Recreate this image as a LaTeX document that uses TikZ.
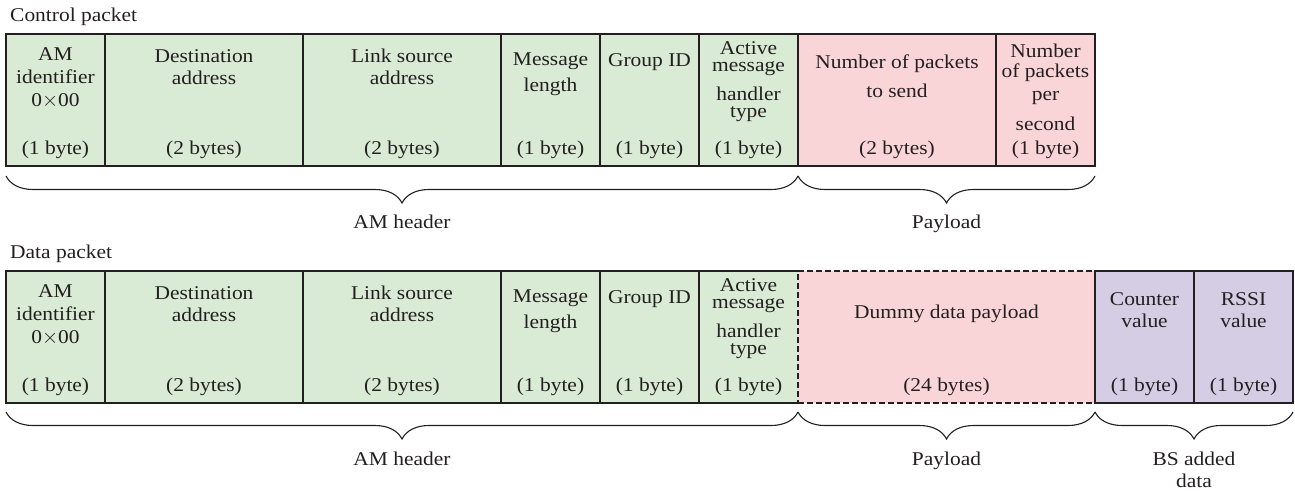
\documentclass[tikz,border=0pt]{standalone}
\usepackage{fontspec}
\setmainfont{Liberation Serif}[FakeStretch=1.1]
\usetikzlibrary{calc,decorations.pathreplacing}

\definecolor{inkgray}{RGB}{35,31,32}
\definecolor{amgreen}{RGB}{217,234,213}
\definecolor{loadpink}{RGB}{250,213,215}
\definecolor{bslilac}{RGB}{213,205,228}

\tikzset{
	field/.style={rectangle, inner sep=0pt, outer sep=0pt, minimum height=132pt, anchor=north west, line width=1.1pt, draw=inkgray},
	lbl/.style={align=center, inner sep=0pt, text=inkgray, font=\fontsize{19.5}{22}\selectfont},
	bytes/.style={lbl},
	rowtitle/.style={lbl, anchor=base west},
	partname/.style={lbl, anchor=north},
	hbrace/.style={decorate, decoration={brace, amplitude=27pt}, line width=1.1pt, draw=inkgray}
}

\begin{document}
\begin{tikzpicture}[x=1pt, y=1pt]
				\useasboundingbox (0,0) rectangle (1295,-490);
				
				% control packet
				\node[rowtitle] (ctitle) at (10,-21) {Control packet};
				
				\node[field, fill=amgreen, minimum width=99pt] (c1) at (6,-34) {};
				\node[field, fill=amgreen, minimum width=198pt] (c2) at (105,-34) {};
				\node[field, fill=amgreen, minimum width=198pt] (c3) at (303,-34) {};
				\node[field, fill=amgreen, minimum width=99pt] (c4) at (501,-34) {};
				\node[field, fill=amgreen, minimum width=99pt] (c5) at (600,-34) {};
				\node[field, fill=amgreen, minimum width=99pt] (c6) at (699,-34) {};
				\node[field, fill=loadpink, minimum width=198pt] (c7) at (798,-34) {};
				\node[field, fill=loadpink, minimum width=99pt] (c8) at (996,-34) {};
				
				\node[lbl] (c1t) at ([yshift=-44pt]c1.north) {AM\\[1pt]identifier\\[1pt]0{$\times$}00};
				\node[lbl] (c2t) at ([yshift=-33pt]c2.north) {Destination\\address};
				\node[lbl] (c3t) at ([yshift=-33pt]c3.north) {Link source\\address};
				\node[lbl] (c4t) at ([yshift=-40pt]c4.north) {Message\\[4pt]length};
				\node[lbl] (c5t) at ([yshift=-28pt]c5.north) {Group ID};
				\node[lbl] (c6t) at ([yshift=-48pt]c6.north) {Active\\[-5pt]message\\[7pt]handler\\[-5pt]type};
				\node[lbl] (c7t) at ([yshift=-42pt]c7.north) {Number of packets\\[7pt]to send};
				\node[lbl] (c8t) at ([yshift=-53pt]c8.north) {Number\\[-2pt]of packets\\[1pt]per\\[8pt]second};
				
				\node[bytes] (c1b) at ([yshift=16pt]c1.south) {(1 byte)};
				\node[bytes] (c2b) at ([yshift=16pt]c2.south) {(2 bytes)};
				\node[bytes] (c3b) at ([yshift=16pt]c3.south) {(2 bytes)};
				\node[bytes] (c4b) at ([yshift=16pt]c4.south) {(1 byte)};
				\node[bytes] (c5b) at ([yshift=16pt]c5.south) {(1 byte)};
				\node[bytes] (c6b) at ([yshift=16pt]c6.south) {(1 byte)};
				\node[bytes] (c7b) at ([yshift=16pt]c7.south) {(2 bytes)};
				\node[bytes] (c8b) at ([yshift=16pt]c8.south) {(1 byte)};
				
				\coordinate (chdrL) at ([yshift=-10pt]c1.south west);
				\coordinate (chdrR) at ([yshift=-10pt]c6.south east);
				\coordinate (cpayR) at ([yshift=-10pt]c8.south east);
				\draw[hbrace] (chdrR) -- (chdrL);
				\draw[hbrace] (cpayR) -- (chdrR);
				\node[partname] (chdr) at ($(chdrL)!0.5!(chdrR)+(0,-39)$) {AM header};
				\node[partname] (cpay) at ($(chdrR)!0.5!(cpayR)+(0,-39)$) {Payload};
				
				% data packet
				\node[rowtitle] (dtitle) at (10,-258) {Data packet};
				
				\node[field, fill=amgreen, minimum width=99pt] (d1) at (6,-271) {};
				\node[field, fill=amgreen, minimum width=198pt] (d2) at (105,-271) {};
				\node[field, fill=amgreen, minimum width=198pt] (d3) at (303,-271) {};
				\node[field, fill=amgreen, minimum width=99pt] (d4) at (501,-271) {};
				\node[field, fill=amgreen, minimum width=99pt] (d5) at (600,-271) {};
				\node[field, fill=amgreen, draw=none, minimum width=99pt] (d6) at (699,-271) {};
				\draw[line width=1.1pt, inkgray] (d6.north east) -- (d6.north west) -- (d6.south west) -- (d6.south east);
				\node[field, fill=loadpink, dash pattern=on 6pt off 3pt, minimum width=297pt] (d7) at (798,-271) {};
				\node[field, fill=bslilac, minimum width=99pt] (d8) at (1095,-271) {};
				\node[field, fill=bslilac, minimum width=99pt] (d9) at (1194,-271) {};
				
				\node[lbl] (d1t) at ([yshift=-44pt]d1.north) {AM\\[1pt]identifier\\[1pt]0{$\times$}00};
				\node[lbl] (d2t) at ([yshift=-33pt]d2.north) {Destination\\address};
				\node[lbl] (d3t) at ([yshift=-33pt]d3.north) {Link source\\address};
				\node[lbl] (d4t) at ([yshift=-40pt]d4.north) {Message\\[4pt]length};
				\node[lbl] (d5t) at ([yshift=-28pt]d5.north) {Group ID};
				\node[lbl] (d6t) at ([yshift=-48pt]d6.north) {Active\\[-5pt]message\\[7pt]handler\\[-5pt]type};
				\node[lbl] (d7t) at ([yshift=-43pt]d7.north) {Dummy data payload};
				\node[lbl] (d8t) at ([yshift=-39pt]d8.north) {Counter\\value};
				\node[lbl] (d9t) at ([yshift=-39pt]d9.north) {RSSI\\value};
				
				\node[bytes] (d1b) at ([yshift=16pt]d1.south) {(1 byte)};
				\node[bytes] (d2b) at ([yshift=16pt]d2.south) {(2 bytes)};
				\node[bytes] (d3b) at ([yshift=16pt]d3.south) {(2 bytes)};
				\node[bytes] (d4b) at ([yshift=16pt]d4.south) {(1 byte)};
				\node[bytes] (d5b) at ([yshift=16pt]d5.south) {(1 byte)};
				\node[bytes] (d6b) at ([yshift=16pt]d6.south) {(1 byte)};
				\node[bytes] (d7b) at ([yshift=16pt]d7.south) {(24 bytes)};
				\node[bytes] (d8b) at ([yshift=16pt]d8.south) {(1 byte)};
				\node[bytes] (d9b) at ([yshift=16pt]d9.south) {(1 byte)};
				
				\coordinate (dhdrL) at ([yshift=-9pt]d1.south west);
				\coordinate (dhdrR) at ([yshift=-9pt]d6.south east);
				\coordinate (dpayR) at ([yshift=-9pt]d7.south east);
				\coordinate (dbsR) at ([yshift=-9pt]d9.south east);
				\draw[hbrace] (dhdrR) -- (dhdrL);
				\draw[hbrace] (dpayR) -- (dhdrR);
				\draw[hbrace] (dbsR) -- (dpayR);
				\node[partname] (dhdr) at ($(dhdrL)!0.5!(dhdrR)+(0,-40)$) {AM header};
				\node[partname] (dpay) at ($(dhdrR)!0.5!(dpayR)+(0,-40)$) {Payload};
				\node[partname] (dbs) at ($(dpayR)!0.5!(dbsR)+(0,-40)$) {BS added\\data};
\end{tikzpicture}
\end{document}
